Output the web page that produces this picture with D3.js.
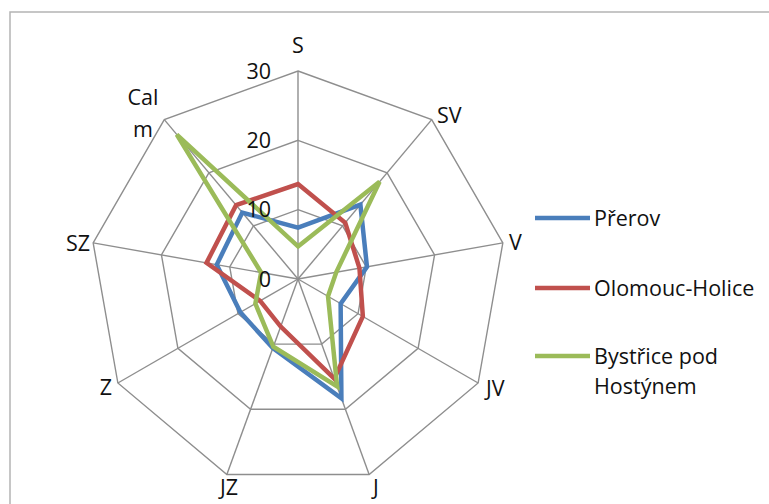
<!DOCTYPE html>
<html><head><meta charset="utf-8">
<script src="https://cdn.jsdelivr.net/npm/d3@7"></script>
<style>body{margin:0;background:#fff}svg{display:block}text{font-family:"Open Sans",sans-serif;fill:#111}</style>
</head><body>
<script>
const categories = ["S","SV","V","JV","J","JZ","Z","SZ","Calm"];
const seriesNames = ["Přerov","Olomouc-Holice","Bystřice pod Hostýnem"];
const prerov   = [7.4, 14.0, 10.1, 7.1, 18.3, 10.6, 9.6, 11.9, 12.5];
const olomouc  = [13.7, 10.6, 9.0, 10.8, 15.3, 7.3, 6.3, 13.4, 13.9];
const bystrice = [4.7, 18.3, 5.6, 5.0, 16.5, 10.4, 7.1, 5.4, 27.2];
const ticks = [0, 10, 20, 30];
const colors = ["#4A7EBB", "#C0504D", "#9BBB59"];

const W = 769, H = 504, cx = 298, cy = 279, R = 208;
const FS = 21.5;
const svg = d3.select("body").append("svg").attr("width", W).attr("height", H);

// frame
svg.append("path").attr("d", `M10,${H} V12 H${W}`).attr("fill","none")
  .attr("stroke","#b4b4b4").attr("stroke-width",1.5);

const r = d3.scaleLinear().domain([0, 30]).range([0, R]);
const ang = d3.scalePoint().domain(categories).range([0, 2*Math.PI*(categories.length-1)/categories.length]);
const pt = (c, v) => [cx + r(v)*Math.sin(ang(c)), cy - r(v)*Math.cos(ang(c))];

const grid = svg.append("g").attr("stroke","#8e8e8e").attr("stroke-width",1.4).attr("fill","none");
ticks.slice(1).forEach(t => {
  grid.append("path").attr("d", d3.line()(categories.map(c => pt(c, t))) + "Z");
});
categories.forEach(c => {
  grid.append("line").attr("x1",cx).attr("y1",cy)
    .attr("x2",pt(c,30)[0]).attr("y2",pt(c,30)[1]);
});

// series
const data = [prerov, olomouc, bystrice];
const line = d3.line();
data.forEach((vals, i) => {
  svg.append("path")
    .attr("d", line(categories.map((c, j) => pt(c, vals[j]))) + "Z")
    .attr("fill","none").attr("stroke", colors[i]).attr("stroke-width",4.5)
    .attr("stroke-linejoin","miter");
});

// tick labels (drawn on top)
svg.append("g").selectAll("text").data(ticks).join("text")
  .attr("x", cx - 27).attr("y", d => cy - r(d)).attr("dy","0.36em")
  .attr("text-anchor","end").attr("font-size",FS).text(d => d);

// category labels
const labelPos = {
  "S":  {x:298, y:53, a:"middle"},
  "SV": {x:437, y:123, a:"start"},
  "V":  {x:509, y:250, a:"start"},
  "JV": {x:486, y:396, a:"start"},
  "J":  {x:376, y:495, a:"middle"},
  "JZ": {x:229, y:495, a:"middle"},
  "Z":  {x:112, y:395, a:"end"},
  "SZ": {x:90,  y:251, a:"end"},
  "Calm": {x:143, y:105, a:"middle"}
};
categories.forEach(c => {
  const p = labelPos[c];
  const t = svg.append("text").attr("x", p.x).attr("y", p.y)
    .attr("text-anchor", p.a).attr("font-size", FS);
  if (c === "Calm") {
    t.append("tspan").attr("x", p.x).text("Cal");
    t.append("tspan").attr("x", p.x).attr("dy", 32).text("m");
  } else t.text(c);
});

// legend
const legY = [218, 288, 356];
seriesNames.forEach((n, i) => {
  svg.append("line").attr("x1",535).attr("x2",590).attr("y1",legY[i]).attr("y2",legY[i])
    .attr("stroke",colors[i]).attr("stroke-width",4.5);
  const t = svg.append("text").attr("x",594).attr("y",legY[i]+8).attr("font-size",FS);
  if (i === 2) {
    t.append("tspan").attr("x",594).text("Bystřice pod");
    t.append("tspan").attr("x",594).attr("dy",30).text("Hostýnem");
  } else t.text(n);
});
</script>
</body></html>
